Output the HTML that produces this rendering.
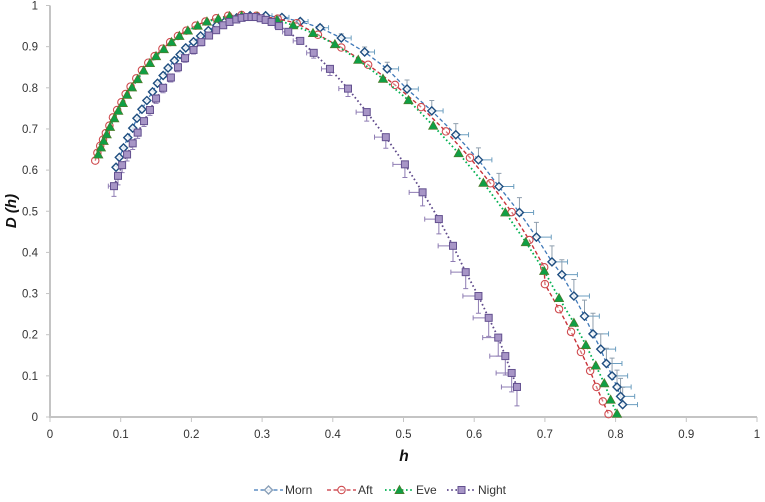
<!DOCTYPE html>
<html>
<head>
<meta charset="utf-8">
<title>D(h) chart</title>
<style>
html,body{margin:0;padding:0;background:#fff}
svg{display:block;filter:blur(0.35px)}
text{font-family:"Liberation Sans",sans-serif;fill:#333}
</style>
</head>
<body>
<svg id="chart" width="765" height="502" viewBox="0 0 765 502" xmlns="http://www.w3.org/2000/svg">
<rect x="0" y="0" width="765" height="502" fill="#fff"/>
<g id="axes"></g>
<g id="marks"></g>
<text transform="translate(16,211) rotate(-90)" text-anchor="middle" font-size="15" font-weight="bold" font-style="italic" style="fill:#111">D (h)</text>
<text x="404" y="461" text-anchor="middle" font-size="15.5" font-weight="bold" font-style="italic" style="fill:#111">h</text>
<g id="legend"></g>
</svg>
<script>
const xTickLabels = ['0','0.1','0.2','0.3','0.4','0.5','0.6','0.7','0.8','0.9','1'];
const yTickLabels = ['0','0.1','0.2','0.3','0.4','0.5','0.6','0.7','0.8','0.9','1'];
const xTickValues = [0,0.1,0.2,0.3,0.4,0.5,0.6,0.7,0.8,0.9,1];
const yTickValues = [0,0.1,0.2,0.3,0.4,0.5,0.6,0.7,0.8,0.9,1];
const seriesNames = ['Morn','Aft','Eve','Night'];

const mornH = [.0934,.098,.104,.110,.117,.123,.130,.137,.145,.152,.160,.167,.176,.184,.192,.203,.213,.224,.236,.248,.264,.283,.305,.328,.354,.382,.412,.445,.477,.505,.540,.574,.606,.635,.664,.688,.710,.724,.741,.756,.768,.779,.787,.795,.802,.807,.810];
const mornD = [.607,.631,.654,.679,.702,.726,.748,.769,.790,.811,.830,.848,.866,.881,.897,.912,.926,.939,.952,.962,.970,.975,.975,.971,.961,.946,.921,.887,.846,.797,.744,.686,.625,.560,.497,.437,.377,.346,.294,.245,.202,.165,.130,.100,.073,.050,.030];
const mornHErr = [.002,.002,.002,.002,.003,.003,.003,.003,.003,.004,.004,.004,.004,.005,.005,.005,.006,.006,.007,.007,.008,.008,.009,.010,.011,.012,.014,.014,.016,.016,.016,.018,.019,.021,.020,.021,.022,.022,.022,.021,.022,.021,.022,.022,.020,.020,.021];
const mornDErr = [.002,.002,.002,.002,.002,.002,.002,.002,.002,.002,.002,.002,.002,.003,.003,.003,.003,.003,.003,.004,.004,.005,.005,.006,.006,.007,.010,.012,.016,.022,.025,.027,.029,.032,.036,.036,.039,.036,.040,.039,.050,.037,.037,.043,.041,.044,.042];

const aftH = [.064,.067,.071,.075,.079,.084,.089,.095,.101,.107,.114,.122,.130,.139,.148,.159,.170,.181,.193,.206,.220,.235,.252,.271,.292,.322,.349,.379,.412,.450,.488,.525,.560,.594,.623,.653,.678,.699,.700,.720,.737,.751,.764,.773,.782,.790];
const aftD = [.623,.642,.659,.674,.690,.708,.728,.746,.765,.785,.803,.823,.843,.861,.877,.895,.911,.926,.939,.951,.961,.969,.975,.977,.975,.968,.957,.929,.898,.856,.807,.753,.694,.630,.568,.498,.430,.364,.323,.262,.207,.158,.112,.073,.038,.007];

const eveH = [.0683,.0721,.0759,.0802,.0849,.091,.0966,.103,.109,.116,.124,.1325,.1414,.150,.161,.172,.183,.195,.209,.222,.238,.254,.271,.293,.321,.344,.372,.403,.436,.471,.507,.542,.578,.613,.644,.673,.699,.720,.741,.758,.772,.784,.793,.802];
const eveD = [.638,.655,.671,.687,.705,.726,.744,.763,.783,.801,.821,.842,.860,.877,.894,.911,.926,.939,.951,.961,.968,.974,.975,.973,.965,.952,.933,.906,.868,.822,.770,.708,.641,.569,.497,.425,.355,.289,.229,.175,.125,.082,.042,.008];

const nightH = [.0905,.0962,.102,.109,.117,.124,.133,.1414,.150,.160,.171,.181,.191,.203,.214,.225,.235,.245,.254,.2635,.271,.279,.285,.291,.298,.305,.3135,.324,.337,.354,.373,.396,.4215,.448,.475,.502,.527,.550,.570,.588,.606,.6205,.634,.644,.653,.6605];
const nightD = [.561,.586,.612,.638,.665,.691,.719,.746,.774,.800,.825,.850,.872,.892,.911,.927,.940,.952,.960,.966,.970,.972,.972,.972,.969,.965,.960,.950,.936,.914,.885,.846,.798,.741,.680,.614,.546,.481,.416,.352,.294,.241,.193,.148,.107,.073];
const nightHErr = [.008,.005,.004,.003,.003,.003,.003,.003,.003,.003,.003,.003,.003,.003,.003,.003,.003,.003,.003,.003,.003,.003,.003,.003,.004,.004,.005,.006,.008,.010,.010,.012,.013,.015,.016,.017,.019,.020,.021,.021,.022,.022,.022,.022,.022,.022];
const nightDErr = [.025,.022,.018,.016,.015,.014,.013,.013,.012,.012,.011,.011,.010,.010,.009,.008,.007,.006,.005,.004,.003,.003,.003,.003,.003,.003,.004,.005,.006,.008,.013,.016,.019,.022,.027,.032,.033,.036,.038,.040,.042,.045,.045,.046,.046,.046];

const NS = 'http://www.w3.org/2000/svg';
const X0 = 50, X1 = 757, Y0 = 417, Y1 = 5.5;
function xScale(v){ return X0 + v * (X1 - X0); }
function yScale(v){ return Y0 - v * (Y0 - Y1); }
function make(tag, attrs, parent){
  const el = document.createElementNS(NS, tag);
  for (const k in attrs) el.setAttribute(k, attrs[k]);
  parent.appendChild(el);
  return el;
}
const axes = document.getElementById('axes');
const marks = document.getElementById('marks');
const legend = document.getElementById('legend');

/* axes */
const yLine = make('line', {x1:X0, x2:X0, y1:Y1, y2:Y0+1, stroke:'#c4c4c4', 'stroke-width':2}, axes);


const xLine = make('line', {x1:X0, x2:X1, y1:Y0, y2:Y0, stroke:'#c4c4c4', 'stroke-width':2}, axes);


xTickValues.forEach(function(v, i){
  const t = make('line', {x1:xScale(v), x2:xScale(v), y1:Y0, y2:Y0+5, stroke:'#c4c4c4', 'stroke-width':1}, axes);
  
  
  const l = make('text', {x:xScale(v), y:438, 'text-anchor':'middle', 'font-size':11.5}, axes);
  
  
  l.textContent = xTickLabels[i];
});
yTickValues.forEach(function(v, i){
  const t = make('line', {x1:X0-4, x2:X0, y1:yScale(v), y2:yScale(v), stroke:'#c4c4c4', 'stroke-width':1}, axes);
  
  
  const l = make('text', {x:38, y:yScale(v)+4, 'text-anchor':'end', 'font-size':11.5}, axes);
  
  
  l.textContent = yTickLabels[i];
});

/* marker shapes */
function drawMarker(kind, cx, cy, parent){
  let m;
  if (kind === 'diamond') {
    m = make('polygon', {points:(cx-4)+','+cy+' '+cx+','+(cy-4)+' '+(cx+4)+','+cy+' '+cx+','+(cy+4), fill:'#fff', 'fill-opacity':0.8, stroke:'#1f4e80', 'stroke-width':1.4}, parent);
  } else if (kind === 'circle') {
    m = make('circle', {cx:cx, cy:cy, r:3.7, fill:'#fff', 'fill-opacity':0.35, stroke:'#cf4a4e', 'stroke-width':1.1}, parent);
  } else if (kind === 'triangle') {
    m = make('polygon', {points:cx+','+(cy-4.6)+' '+(cx+4.6)+','+(cy+3.6)+' '+(cx-4.6)+','+(cy+3.6), fill:'#0f9f45', stroke:'#4f7a2a', 'stroke-width':0.7}, parent);
  } else {
    m = make('rect', {x:cx-3.5, y:cy-3.5, width:7, height:7, fill:'#a795c6', stroke:'#63508f', 'stroke-width':1}, parent);
  }
  return m;
}

function drawLine(hs, ds, color, dash, width, parent){
  const pts = hs.map(function(h, i){ return xScale(h).toFixed(2) + ',' + yScale(ds[i]).toFixed(2); }).join(' ');
  return make('polyline', {points:pts, fill:'none', stroke:color, 'stroke-width':width, 'stroke-dasharray':dash}, parent);
}

/* Morn */
const gMorn = make('g', {}, marks);


mornH.forEach(function(h, i){
  const px = xScale(h), py = yScale(mornD[i]);
  const ex = xScale(h + mornHErr[i]), ey = yScale(mornD[i] + mornDErr[i]);
  const e1 = make('path', {d:'M'+px+' '+py+'H'+ex+'M'+ex+' '+(py-2.5)+'V'+(py+2.5), stroke:'#6d9fc0', 'stroke-width':1, fill:'none'}, gMorn);
  
  
  const e2 = make('path', {d:'M'+px+' '+py+'V'+ey+'M'+(px-2.5)+' '+ey+'H'+(px+2.5), stroke:'#8f9fae', 'stroke-width':1, fill:'none'}, gMorn);
  
  
});
const lMorn = drawLine(mornH, mornD, '#3f78b8', '4 2.5', 1.3, gMorn);


mornH.forEach(function(h, i){
  const m = drawMarker('diamond', xScale(h), yScale(mornD[i]), gMorn);
  
  
});

/* Aft */
const gAft = make('g', {}, marks);


const lAft = drawLine(aftH, aftD, '#c8323a', '4 2.5', 1.4, gAft);


aftH.forEach(function(h, i){
  const m = drawMarker('circle', xScale(h), yScale(aftD[i]), gAft);
  
  
});

/* Eve */
const gEve = make('g', {}, marks);


const lEve = drawLine(eveH, eveD, '#00b050', '1.6 2.6', 1.8, gEve);


eveH.forEach(function(h, i){
  const m = drawMarker('triangle', xScale(h), yScale(eveD[i]), gEve);
  
  
});

/* Night */
const gNight = make('g', {}, marks);


nightH.forEach(function(h, i){
  const px = xScale(h), py = yScale(nightD[i]);
  const ex = xScale(h - nightHErr[i]), ey = yScale(nightD[i] - nightDErr[i]);
  const e = make('path', {d:'M'+px+' '+py+'H'+ex+'M'+ex+' '+(py-2.5)+'V'+(py+2.5)+'M'+px+' '+py+'V'+ey+'M'+(px-2.5)+' '+ey+'H'+(px+2.5), stroke:'#8e7cb3', 'stroke-width':1, fill:'none'}, gNight);
  
  
});
const lNight = drawLine(nightH, nightD, '#5f4a8b', '1.6 2.6', 1.8, gNight);


nightH.forEach(function(h, i){
  const m = drawMarker('square', xScale(h), yScale(nightD[i]), gNight);
  
  
});

/* legend */
const legendX = [254, 327, 385, 447];
const legendKinds = ['diamond','circle','triangle','square'];
const legendColors = ['#3f78b8','#c8323a','#00b050','#5f4a8b'];
const legendDash = ['4 2.5','4 2.5','1.6 2.6','1.6 2.6'];
seriesNames.forEach(function(name, i){
  const g = make('g', {}, legend);
  
  
  const lx = legendX[i];
  make('line', {x1:lx, x2:lx+29, y1:490, y2:490, stroke:legendColors[i], 'stroke-width':i < 2 ? 1.2 : 1.7, 'stroke-dasharray':legendDash[i]}, g);
  const m = drawMarker(legendKinds[i], lx+14.5, 490, g);
  if (i === 0) m.setAttribute('stroke', '#8aa0b8');
  const t = make('text', {x:lx+31, y:494, 'font-size':12}, g);
  t.textContent = name;
});
</script>
</body>
</html>
